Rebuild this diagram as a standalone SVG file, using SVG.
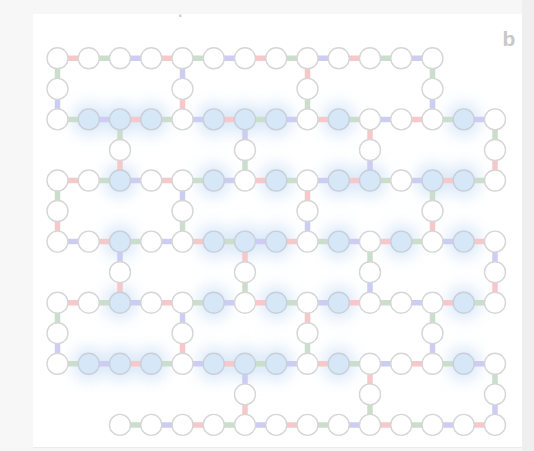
<svg xmlns="http://www.w3.org/2000/svg" width="534" height="451" viewBox="0 0 534 451">
<defs>
<filter id="glow" filterUnits="userSpaceOnUse" x="0" y="0" width="534" height="451"><feGaussianBlur stdDeviation="8"/></filter>
<style>
.n{fill:#ffffff;stroke:#d6d6d6;stroke-width:1.4}
.nb{fill:#d6e7f8;stroke:#c9cfd8;stroke-width:1.4}
.cr{fill:none;stroke:#f6c8ca;stroke-width:5.5}
.cg{fill:none;stroke:#cadecb;stroke-width:5.5}
.cb{fill:none;stroke:#cdcdf4;stroke-width:5.5}
.gl{fill:#c6ddf6}
</style>
</defs>
<rect x="0" y="0" width="534" height="451" fill="#f7f7f7"/>
<rect x="522" y="0" width="12" height="451" fill="#efefef"/>
<rect x="33" y="14" width="489" height="433" fill="#ffffff"/>
<line x1="33" y1="447.5" x2="522" y2="447.5" stroke="#ececec" stroke-width="1"/>
<rect x="179" y="14.5" width="2.5" height="2.5" fill="#d0d0d0"/>
<text x="502.5" y="45.5" font-family="'Liberation Sans', Arial, sans-serif" font-weight="bold" font-size="21" fill="#c8c8c8">b</text>

<g id="glows" filter="url(#glow)" opacity="0.7">
<circle class="gl" cx="88.75" cy="119.4" r="16"/><circle class="gl" cx="120" cy="119.4" r="16"/><circle class="gl" cx="151.25" cy="119.4" r="16"/><circle class="gl" cx="213.75" cy="119.4" r="16"/><circle class="gl" cx="245" cy="119.4" r="16"/><circle class="gl" cx="276.25" cy="119.4" r="16"/><circle class="gl" cx="338.75" cy="119.4" r="16"/><circle class="gl" cx="463.75" cy="119.4" r="16"/>
<circle class="gl" cx="120" cy="180.5" r="16"/><circle class="gl" cx="213.75" cy="180.5" r="16"/><circle class="gl" cx="276.25" cy="180.5" r="16"/><circle class="gl" cx="338.75" cy="180.5" r="16"/><circle class="gl" cx="370" cy="180.5" r="16"/><circle class="gl" cx="432.5" cy="180.5" r="16"/><circle class="gl" cx="463.75" cy="180.5" r="16"/>
<circle class="gl" cx="120" cy="241.6" r="16"/><circle class="gl" cx="213.75" cy="241.6" r="16"/><circle class="gl" cx="245" cy="241.6" r="16"/><circle class="gl" cx="276.25" cy="241.6" r="16"/><circle class="gl" cx="338.75" cy="241.6" r="16"/><circle class="gl" cx="401.25" cy="241.6" r="16"/><circle class="gl" cx="463.75" cy="241.6" r="16"/>
<circle class="gl" cx="120" cy="302.7" r="16"/><circle class="gl" cx="213.75" cy="302.7" r="16"/><circle class="gl" cx="276.25" cy="302.7" r="16"/><circle class="gl" cx="338.75" cy="302.7" r="16"/><circle class="gl" cx="463.75" cy="302.7" r="16"/>
<circle class="gl" cx="88.75" cy="363.8" r="16"/><circle class="gl" cx="120" cy="363.8" r="16"/><circle class="gl" cx="151.25" cy="363.8" r="16"/><circle class="gl" cx="213.75" cy="363.8" r="16"/><circle class="gl" cx="245" cy="363.8" r="16"/><circle class="gl" cx="276.25" cy="363.8" r="16"/><circle class="gl" cx="338.75" cy="363.8" r="16"/><circle class="gl" cx="463.75" cy="363.8" r="16"/>
</g>

<g id="connectors">
<path class="cr" d="M57.5 58.3H88.75M151.25 58.3H182.5M245 58.3H276.25M338.75 58.3H370"/>
<path class="cg" d="M88.75 58.3H120M182.5 58.3H213.75M276.25 58.3H307.5M370 58.3H401.25"/>
<path class="cb" d="M120 58.3H151.25M213.75 58.3H245M307.5 58.3H338.75M401.25 58.3H432.5"/>
<path class="cr" d="M120 119.4H151.25M213.75 119.4H245M307.5 119.4H338.75M401.25 119.4H432.5"/>
<path class="cg" d="M57.5 119.4H88.75M151.25 119.4H182.5M245 119.4H276.25M338.75 119.4H370M432.5 119.4H463.75"/>
<path class="cb" d="M88.75 119.4H120M182.5 119.4H213.75M276.25 119.4H307.5M370 119.4H401.25M463.75 119.4H495"/>
<path class="cr" d="M57.5 180.5H88.75M151.25 180.5H182.5M245 180.5H276.25M338.75 180.5H370M432.5 180.5H463.75"/>
<path class="cg" d="M88.75 180.5H120M182.5 180.5H213.75M276.25 180.5H307.5M370 180.5H401.25M463.75 180.5H495"/>
<path class="cb" d="M120 180.5H151.25M213.75 180.5H245M307.5 180.5H338.75M401.25 180.5H432.5"/>
<path class="cr" d="M88.75 241.6H120M182.5 241.6H213.75M276.25 241.6H307.5M370 241.6H401.25M463.75 241.6H495"/>
<path class="cg" d="M120 241.6H151.25M213.75 241.6H245M307.5 241.6H338.75M401.25 241.6H432.5"/>
<path class="cb" d="M57.5 241.6H88.75M151.25 241.6H182.5M245 241.6H276.25M338.75 241.6H370M432.5 241.6H463.75"/>
<path class="cr" d="M57.5 302.7H88.75M151.25 302.7H182.5M245 302.7H276.25M338.75 302.7H370M432.5 302.7H463.75"/>
<path class="cg" d="M88.75 302.7H120M182.5 302.7H213.75M276.25 302.7H307.5M370 302.7H401.25M463.75 302.7H495"/>
<path class="cb" d="M120 302.7H151.25M213.75 302.7H245M307.5 302.7H338.75M401.25 302.7H432.5"/>
<path class="cr" d="M120 363.8H151.25M213.75 363.8H245M307.5 363.8H338.75M401.25 363.8H432.5"/>
<path class="cg" d="M57.5 363.8H88.75M151.25 363.8H182.5M245 363.8H276.25M338.75 363.8H370M432.5 363.8H463.75"/>
<path class="cb" d="M88.75 363.8H120M182.5 363.8H213.75M276.25 363.8H307.5M370 363.8H401.25M463.75 363.8H495"/>
<path class="cr" d="M182.5 424.9H213.75M276.25 424.9H307.5M370 424.9H401.25M463.75 424.9H495"/>
<path class="cg" d="M120 424.9H151.25M213.75 424.9H245M307.5 424.9H338.75M401.25 424.9H432.5"/>
<path class="cb" d="M151.25 424.9H182.5M245 424.9H276.25M338.75 424.9H370M432.5 424.9H463.75"/>
<path class="cr" d="M307.5 58.3V88.9M182.5 88.9V119.4M370 119.4V150M120 150V180.5M495 150V180.5M307.5 180.5V211M57.5 211V241.6M432.5 211V241.6M245 241.6V272.2M120 272.2V302.7M495 272.2V302.7M307.5 302.7V333.2M182.5 333.2V363.8M370 363.8V394.4M245 394.4V424.9"/>
<path class="cg" d="M57.5 58.3V88.9M432.5 58.3V88.9M307.5 88.9V119.4M120 119.4V150M495 119.4V150M245 150V180.5M57.5 180.5V211M432.5 180.5V211M182.5 211V241.6M370 241.6V272.2M245 272.2V302.7M57.5 302.7V333.2M432.5 302.7V333.2M307.5 333.2V363.8M495 363.8V394.4M370 394.4V424.9"/>
<path class="cb" d="M182.5 58.3V88.9M57.5 88.9V119.4M432.5 88.9V119.4M245 119.4V150M370 150V180.5M182.5 180.5V211M307.5 211V241.6M120 241.6V272.2M495 241.6V272.2M370 272.2V302.7M182.5 302.7V333.2M57.5 333.2V363.8M432.5 333.2V363.8M245 363.8V394.4M495 394.4V424.9"/>
</g>

<g id="nodes">
<g id="r0c0"><circle class="n" cx="57.5" cy="58.3" r="10.5"/></g>
<g id="r0c1"><circle class="n" cx="88.75" cy="58.3" r="10.5"/></g>
<g id="r0c2"><circle class="n" cx="120" cy="58.3" r="10.5"/></g>
<g id="r0c3"><circle class="n" cx="151.25" cy="58.3" r="10.5"/></g>
<g id="r0c4"><circle class="n" cx="182.5" cy="58.3" r="10.5"/></g>
<g id="r0c5"><circle class="n" cx="213.75" cy="58.3" r="10.5"/></g>
<g id="r0c6"><circle class="n" cx="245" cy="58.3" r="10.5"/></g>
<g id="r0c7"><circle class="n" cx="276.25" cy="58.3" r="10.5"/></g>
<g id="r0c8"><circle class="n" cx="307.5" cy="58.3" r="10.5"/></g>
<g id="r0c9"><circle class="n" cx="338.75" cy="58.3" r="10.5"/></g>
<g id="r0c10"><circle class="n" cx="370" cy="58.3" r="10.5"/></g>
<g id="r0c11"><circle class="n" cx="401.25" cy="58.3" r="10.5"/></g>
<g id="r0c12"><circle class="n" cx="432.5" cy="58.3" r="10.5"/></g>
<g id="r1c0"><circle class="n" cx="57.5" cy="88.9" r="10.5"/></g>
<g id="r1c4"><circle class="n" cx="182.5" cy="88.9" r="10.5"/></g>
<g id="r1c8"><circle class="n" cx="307.5" cy="88.9" r="10.5"/></g>
<g id="r1c12"><circle class="n" cx="432.5" cy="88.9" r="10.5"/></g>
<g id="r2c0"><circle class="n" cx="57.5" cy="119.4" r="10.5"/></g>
<g id="r2c1"><circle class="nb" cx="88.75" cy="119.4" r="10.5"/></g>
<g id="r2c2"><circle class="nb" cx="120" cy="119.4" r="10.5"/></g>
<g id="r2c3"><circle class="nb" cx="151.25" cy="119.4" r="10.5"/></g>
<g id="r2c4"><circle class="n" cx="182.5" cy="119.4" r="10.5"/></g>
<g id="r2c5"><circle class="nb" cx="213.75" cy="119.4" r="10.5"/></g>
<g id="r2c6"><circle class="nb" cx="245" cy="119.4" r="10.5"/></g>
<g id="r2c7"><circle class="nb" cx="276.25" cy="119.4" r="10.5"/></g>
<g id="r2c8"><circle class="n" cx="307.5" cy="119.4" r="10.5"/></g>
<g id="r2c9"><circle class="nb" cx="338.75" cy="119.4" r="10.5"/></g>
<g id="r2c10"><circle class="n" cx="370" cy="119.4" r="10.5"/></g>
<g id="r2c11"><circle class="n" cx="401.25" cy="119.4" r="10.5"/></g>
<g id="r2c12"><circle class="n" cx="432.5" cy="119.4" r="10.5"/></g>
<g id="r2c13"><circle class="nb" cx="463.75" cy="119.4" r="10.5"/></g>
<g id="r2c14"><circle class="n" cx="495" cy="119.4" r="10.5"/></g>
<g id="r3c2"><circle class="n" cx="120" cy="150" r="10.5"/></g>
<g id="r3c6"><circle class="n" cx="245" cy="150" r="10.5"/></g>
<g id="r3c10"><circle class="n" cx="370" cy="150" r="10.5"/></g>
<g id="r3c14"><circle class="n" cx="495" cy="150" r="10.5"/></g>
<g id="r4c0"><circle class="n" cx="57.5" cy="180.5" r="10.5"/></g>
<g id="r4c1"><circle class="n" cx="88.75" cy="180.5" r="10.5"/></g>
<g id="r4c2"><circle class="nb" cx="120" cy="180.5" r="10.5"/></g>
<g id="r4c3"><circle class="n" cx="151.25" cy="180.5" r="10.5"/></g>
<g id="r4c4"><circle class="n" cx="182.5" cy="180.5" r="10.5"/></g>
<g id="r4c5"><circle class="nb" cx="213.75" cy="180.5" r="10.5"/></g>
<g id="r4c6"><circle class="n" cx="245" cy="180.5" r="10.5"/></g>
<g id="r4c7"><circle class="nb" cx="276.25" cy="180.5" r="10.5"/></g>
<g id="r4c8"><circle class="n" cx="307.5" cy="180.5" r="10.5"/></g>
<g id="r4c9"><circle class="nb" cx="338.75" cy="180.5" r="10.5"/></g>
<g id="r4c10"><circle class="nb" cx="370" cy="180.5" r="10.5"/></g>
<g id="r4c11"><circle class="n" cx="401.25" cy="180.5" r="10.5"/></g>
<g id="r4c12"><circle class="nb" cx="432.5" cy="180.5" r="10.5"/></g>
<g id="r4c13"><circle class="nb" cx="463.75" cy="180.5" r="10.5"/></g>
<g id="r4c14"><circle class="n" cx="495" cy="180.5" r="10.5"/></g>
<g id="r5c0"><circle class="n" cx="57.5" cy="211" r="10.5"/></g>
<g id="r5c4"><circle class="n" cx="182.5" cy="211" r="10.5"/></g>
<g id="r5c8"><circle class="n" cx="307.5" cy="211" r="10.5"/></g>
<g id="r5c12"><circle class="n" cx="432.5" cy="211" r="10.5"/></g>
<g id="r6c0"><circle class="n" cx="57.5" cy="241.6" r="10.5"/></g>
<g id="r6c1"><circle class="n" cx="88.75" cy="241.6" r="10.5"/></g>
<g id="r6c2"><circle class="nb" cx="120" cy="241.6" r="10.5"/></g>
<g id="r6c3"><circle class="n" cx="151.25" cy="241.6" r="10.5"/></g>
<g id="r6c4"><circle class="n" cx="182.5" cy="241.6" r="10.5"/></g>
<g id="r6c5"><circle class="nb" cx="213.75" cy="241.6" r="10.5"/></g>
<g id="r6c6"><circle class="nb" cx="245" cy="241.6" r="10.5"/></g>
<g id="r6c7"><circle class="nb" cx="276.25" cy="241.6" r="10.5"/></g>
<g id="r6c8"><circle class="n" cx="307.5" cy="241.6" r="10.5"/></g>
<g id="r6c9"><circle class="nb" cx="338.75" cy="241.6" r="10.5"/></g>
<g id="r6c10"><circle class="n" cx="370" cy="241.6" r="10.5"/></g>
<g id="r6c11"><circle class="nb" cx="401.25" cy="241.6" r="10.5"/></g>
<g id="r6c12"><circle class="n" cx="432.5" cy="241.6" r="10.5"/></g>
<g id="r6c13"><circle class="nb" cx="463.75" cy="241.6" r="10.5"/></g>
<g id="r6c14"><circle class="n" cx="495" cy="241.6" r="10.5"/></g>
<g id="r7c2"><circle class="n" cx="120" cy="272.2" r="10.5"/></g>
<g id="r7c6"><circle class="n" cx="245" cy="272.2" r="10.5"/></g>
<g id="r7c10"><circle class="n" cx="370" cy="272.2" r="10.5"/></g>
<g id="r7c14"><circle class="n" cx="495" cy="272.2" r="10.5"/></g>
<g id="r8c0"><circle class="n" cx="57.5" cy="302.7" r="10.5"/></g>
<g id="r8c1"><circle class="n" cx="88.75" cy="302.7" r="10.5"/></g>
<g id="r8c2"><circle class="nb" cx="120" cy="302.7" r="10.5"/></g>
<g id="r8c3"><circle class="n" cx="151.25" cy="302.7" r="10.5"/></g>
<g id="r8c4"><circle class="n" cx="182.5" cy="302.7" r="10.5"/></g>
<g id="r8c5"><circle class="nb" cx="213.75" cy="302.7" r="10.5"/></g>
<g id="r8c6"><circle class="n" cx="245" cy="302.7" r="10.5"/></g>
<g id="r8c7"><circle class="nb" cx="276.25" cy="302.7" r="10.5"/></g>
<g id="r8c8"><circle class="n" cx="307.5" cy="302.7" r="10.5"/></g>
<g id="r8c9"><circle class="nb" cx="338.75" cy="302.7" r="10.5"/></g>
<g id="r8c10"><circle class="n" cx="370" cy="302.7" r="10.5"/></g>
<g id="r8c11"><circle class="n" cx="401.25" cy="302.7" r="10.5"/></g>
<g id="r8c12"><circle class="n" cx="432.5" cy="302.7" r="10.5"/></g>
<g id="r8c13"><circle class="nb" cx="463.75" cy="302.7" r="10.5"/></g>
<g id="r8c14"><circle class="n" cx="495" cy="302.7" r="10.5"/></g>
<g id="r9c0"><circle class="n" cx="57.5" cy="333.2" r="10.5"/></g>
<g id="r9c4"><circle class="n" cx="182.5" cy="333.2" r="10.5"/></g>
<g id="r9c8"><circle class="n" cx="307.5" cy="333.2" r="10.5"/></g>
<g id="r9c12"><circle class="n" cx="432.5" cy="333.2" r="10.5"/></g>
<g id="r10c0"><circle class="n" cx="57.5" cy="363.8" r="10.5"/></g>
<g id="r10c1"><circle class="nb" cx="88.75" cy="363.8" r="10.5"/></g>
<g id="r10c2"><circle class="nb" cx="120" cy="363.8" r="10.5"/></g>
<g id="r10c3"><circle class="nb" cx="151.25" cy="363.8" r="10.5"/></g>
<g id="r10c4"><circle class="n" cx="182.5" cy="363.8" r="10.5"/></g>
<g id="r10c5"><circle class="nb" cx="213.75" cy="363.8" r="10.5"/></g>
<g id="r10c6"><circle class="nb" cx="245" cy="363.8" r="10.5"/></g>
<g id="r10c7"><circle class="nb" cx="276.25" cy="363.8" r="10.5"/></g>
<g id="r10c8"><circle class="n" cx="307.5" cy="363.8" r="10.5"/></g>
<g id="r10c9"><circle class="nb" cx="338.75" cy="363.8" r="10.5"/></g>
<g id="r10c10"><circle class="n" cx="370" cy="363.8" r="10.5"/></g>
<g id="r10c11"><circle class="n" cx="401.25" cy="363.8" r="10.5"/></g>
<g id="r10c12"><circle class="n" cx="432.5" cy="363.8" r="10.5"/></g>
<g id="r10c13"><circle class="nb" cx="463.75" cy="363.8" r="10.5"/></g>
<g id="r10c14"><circle class="n" cx="495" cy="363.8" r="10.5"/></g>
<g id="r11c6"><circle class="n" cx="245" cy="394.4" r="10.5"/></g>
<g id="r11c10"><circle class="n" cx="370" cy="394.4" r="10.5"/></g>
<g id="r11c14"><circle class="n" cx="495" cy="394.4" r="10.5"/></g>
<g id="r12c2"><circle class="n" cx="120" cy="424.9" r="10.5"/></g>
<g id="r12c3"><circle class="n" cx="151.25" cy="424.9" r="10.5"/></g>
<g id="r12c4"><circle class="n" cx="182.5" cy="424.9" r="10.5"/></g>
<g id="r12c5"><circle class="n" cx="213.75" cy="424.9" r="10.5"/></g>
<g id="r12c6"><circle class="n" cx="245" cy="424.9" r="10.5"/></g>
<g id="r12c7"><circle class="n" cx="276.25" cy="424.9" r="10.5"/></g>
<g id="r12c8"><circle class="n" cx="307.5" cy="424.9" r="10.5"/></g>
<g id="r12c9"><circle class="n" cx="338.75" cy="424.9" r="10.5"/></g>
<g id="r12c10"><circle class="n" cx="370" cy="424.9" r="10.5"/></g>
<g id="r12c11"><circle class="n" cx="401.25" cy="424.9" r="10.5"/></g>
<g id="r12c12"><circle class="n" cx="432.5" cy="424.9" r="10.5"/></g>
<g id="r12c13"><circle class="n" cx="463.75" cy="424.9" r="10.5"/></g>
<g id="r12c14"><circle class="n" cx="495" cy="424.9" r="10.5"/></g>
</g>
</svg>
